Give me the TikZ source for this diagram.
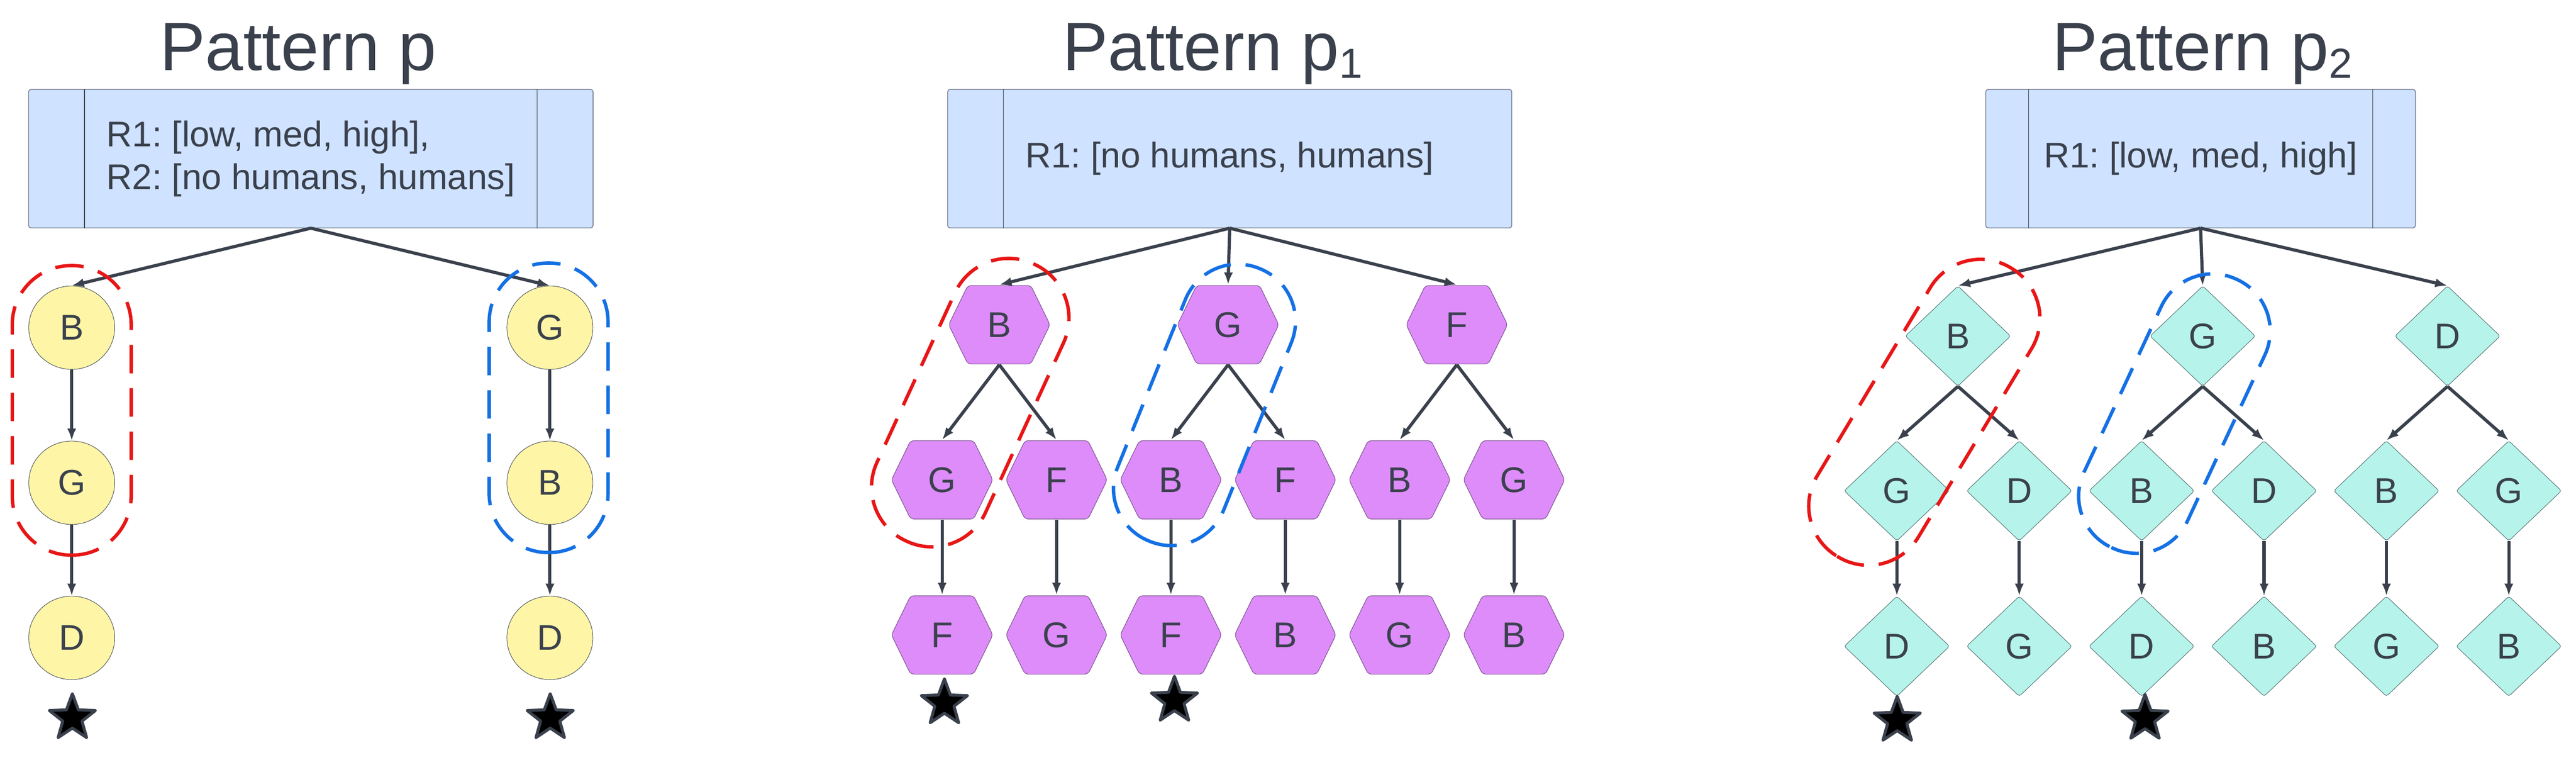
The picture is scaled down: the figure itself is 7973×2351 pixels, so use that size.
\documentclass[tikz,border=0pt]{standalone}
\usepackage{fontspec}
\setmainfont{Liberation Sans}
\usepackage{tikz}
\usetikzlibrary{calc,arrows.meta,shapes.geometric}
\frenchspacing

\definecolor{ink}{RGB}{58,65,77}
\definecolor{boxblue}{RGB}{207,226,255}
\definecolor{boxline}{RGB}{110,118,135}
\definecolor{circyellow}{RGB}{255,245,166}
\definecolor{hexviolet}{RGB}{222,140,250}
\definecolor{hexline}{RGB}{120,80,140}
\definecolor{diamint}{RGB}{182,243,234}
\definecolor{dialine}{RGB}{70,100,100}
\definecolor{ringred}{RGB}{232,22,22}
\definecolor{ringblue}{RGB}{20,112,228}

\newcommand{\labfont}{\fontsize{31.4pt}{37.5pt}\selectfont}
\newcommand{\titlefont}{\fontsize{60pt}{70pt}\selectfont}
\newcommand{\subdigit}[1]{\raisebox{-7pt}{\fontsize{37pt}{40pt}\selectfont #1}}

\begin{document}
\begin{tikzpicture}[x=0.01cm,y=-0.01cm,
  title/.style={anchor=base west,inner sep=0pt,font=\titlefont,text=ink},
  rbox/.style={draw=boxline,fill=boxblue,line width=0.6pt,rounded corners=2pt,minimum height=4.28cm,align=left,font=\labfont,text=ink},
  divider/.style={draw=ink,line width=0.5pt},
  circnode/.style={ellipse,draw=ink,line width=0.4pt,fill=circyellow,minimum width=2.66cm,minimum height=2.58cm,inner sep=0pt,font=\labfont,text=ink},
  hexnode/.style={minimum width=3.17cm,minimum height=2.46cm,inner sep=0pt,font=\labfont,text=ink,
    path picture={\filldraw[fill=hexviolet,draw=hexline,line width=0.5pt,rounded corners=3pt]
      ([xshift=0.5pt]path picture bounding box.west) -- ([xshift=0.61cm,yshift=-0.5pt]path picture bounding box.north west)
      -- ([xshift=-0.61cm,yshift=-0.5pt]path picture bounding box.north east) -- ([xshift=-0.5pt]path picture bounding box.east)
      -- ([xshift=-0.61cm,yshift=0.5pt]path picture bounding box.south east) -- ([xshift=0.61cm,yshift=0.5pt]path picture bounding box.south west) -- cycle;}},
  dianode/.style={diamond,draw=dialine,line width=0.4pt,fill=diamint,minimum width=3.26cm,minimum height=3.1cm,inner sep=0pt,rounded corners=2pt,font=\labfont,text=ink},
  arr/.style={-{Latex[length=0.38cm,width=0.28cm]},draw=ink,line width=2.8pt},
  starnode/.style={star,star points=5,star point ratio=2.4,minimum size=1.5cm,inner sep=0pt,fill=black,draw=ink,line width=2.6pt,line join=round},
  redring/.style={draw=ringred,line width=3pt,dash pattern=on 0.88cm off 0.46cm},
  bluering/.style={draw=ringblue,line width=3pt,dash pattern=on 0.88cm off 0.46cm}]
\useasboundingbox (0,0) rectangle (7973,2351);

\node[title] (tp) at (494,217) {Pattern p};
\node[rbox,minimum width=17.46cm] (bp) at (962,491) {R1: [low, med, high],\\R2: [no humans, humans]};
\draw[divider] ([xshift=1.74cm]bp.north west) -- ([xshift=1.74cm]bp.south west);
\draw[divider] ([xshift=-1.74cm]bp.north east) -- ([xshift=-1.74cm]bp.south east);
\foreach \t [count=\i] in {B,G,D}
  \node[circnode] (l\i) at (222,{534+480*\i}) {\t};
\foreach \t [count=\i] in {G,B,D}
  \node[circnode] (r\i) at (1702,{534+480*\i}) {\t};
\draw[arr] (bp.south) -- (l1.north);
\draw[arr] (bp.south) -- (r1.north);
\foreach \i/\j in {1/2,2/3} {
  \draw[arr] (l\i.south) -- (l\j.north);
  \draw[arr] (r\i.south) -- (r\j.north);
}
\node[starnode] (sa) at (224,2222) {};
\node[starnode] (sb) at (1703,2222) {};

\node[title] (tq) at (3288,217) {Pattern p\subdigit{1}};
\node[rbox,minimum width=17.45cm] (bq) at (3806,491) {R1: [no humans, humans]};
\draw[divider] ([xshift=1.73cm]bq.north west) -- ([xshift=1.73cm]bq.south west);
\foreach \t [count=\i] in {B,G,F}
  \node[hexnode] (h\i) at ({3093+708*(\i-1)},1005) {\t};
\foreach \t [count=\i] in {G,F,B,F,B,G}
  \node[hexnode] (k\i) at ({2916+354*(\i-1)},1485) {\t};
\foreach \t [count=\i] in {F,G,F,B,G,B}
  \node[hexnode] (m\i) at ({2916+354*(\i-1)},1965) {\t};
\foreach \i/\a/\b in {1/1/2,2/3/4,3/5/6} {
  \draw[arr] (bq.south) -- (h\i.north);
  \draw[arr] (h\i.south) -- (k\a.north);
  \draw[arr] (h\i.south) -- (k\b.north);
}
\foreach \i in {1,...,6}
  \draw[arr] (k\i.south) -- (m\i.north);
\node[starnode] (sc) at (2923,2176) {};
\node[starnode] (sd) at (3635,2168) {};

\node[title] (tr) at (6351,217) {Pattern p\subdigit{2}};
\node[rbox,minimum width=13.29cm] (br) at (6811,491) {R1: [low, med, high]};
\draw[divider] ([xshift=1.33cm]br.north west) -- ([xshift=1.33cm]br.south west);
\draw[divider] ([xshift=-1.33cm]br.north east) -- ([xshift=-1.33cm]br.south east);
\foreach \t [count=\i] in {B,G,D}
  \node[dianode] (d\i) at ({6060+757.6*(\i-1)},1040) {\t};
\foreach \t [count=\i] in {G,D,B,D,B,G}
  \node[dianode] (e\i) at ({5871+378.8*(\i-1)},1519) {\t};
\foreach \t [count=\i] in {D,G,D,B,G,B}
  \node[dianode] (f\i) at ({5871+378.8*(\i-1)},2000) {\t};
\foreach \i/\a/\b in {1/1/2,2/3/4,3/5/6} {
  \draw[arr] (br.south) -- (d\i.north);
  \draw[arr] (d\i.south) -- (e\a.north);
  \draw[arr] (d\i.south) -- (e\b.north);
}
\foreach \i in {1,...,6}
  \draw[arr] (e\i.south) -- (f\i.north);
\node[starnode] (se) at (5872,2230) {};
\node[starnode] (sf) at (6639,2224) {};

\draw[redring,shift={(222,1270)},rotate=90,rounded corners=1.82cm] (-448,-184) rectangle (448,184);
\draw[bluering,shift={(1698,1262)},rotate=90,rounded corners=1.82cm] (-448,-184) rectangle (448,184);
\draw[redring,shift={(3003,1246)},rotate=65.3,rounded corners=1.83cm] (-472,-185) rectangle (472,185);
\draw[bluering,shift={(3728,1253)},rotate=68,rounded corners=1.75cm] (-455,-177) rectangle (455,177);
\draw[redring,shift={(5956,1276)},rotate=59,rounded corners=1.81cm] (-521,-183) rectangle (521,183);
\draw[bluering,shift={(6730,1280)},rotate=65,rounded corners=1.75cm] (-458,-177) rectangle (458,177);
\end{tikzpicture}
\end{document}
